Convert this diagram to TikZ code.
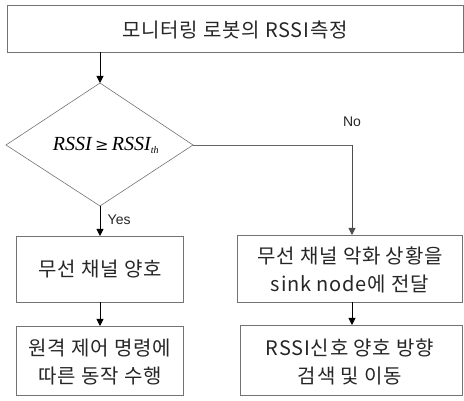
\documentclass[tikz,border=0pt]{standalone}
\usepackage{fontspec}
\setmainfont{Liberation Sans}
\newfontfamily\kr[LetterSpace=4]{Noto Sans CJK KR}
\newfontfamily\tms{Liberation Serif}
\newfontfamily\djv{DejaVu Serif}
\usetikzlibrary{arrows.meta}
\begin{document}
\begin{tikzpicture}[x=1pt,y=-1pt,
  boxline/.style={draw=black!55,line width=0.6pt},
  conn/.style={draw=black!60,line width=0.6pt},
  arr/.style={draw=black,line width=0.8pt,-{Triangle[length=7pt,width=7pt]}},
  txt/.style={font=\kr\fontsize{20}{28}\selectfont,align=center,text=black!85,inner sep=0pt}]
\useasboundingbox (0,0) rectangle (464,401);
\path[boxline] (7,5) rectangle (463,52);
\node[txt] (top) at (235,30) {모니터링 로봇의 RSSI측정};
\coordinate (topb) at (100,52);
% diamond
\coordinate (dt) at (100,83);
\coordinate (dl) at (6,145);
\coordinate (dr) at (193,145);
\coordinate (db) at (100,206);
\draw[boxline] (dt) -- (dr) -- (db) -- (dl) -- cycle;
\node[inner sep=0pt,font=\tms\itshape\fontsize{20}{22}\selectfont] (cond) at (106,145) {RSSI\,{\djv\upshape\fontsize{16}{18}\selectfont ≥}\,RSSI\textsubscript{\fontsize{10}{10}\selectfont th}};
% boxes
\path[boxline] (16,236) rectangle (183,302);
\coordinate (l1) at (100,236);
\node[txt] (l1t) at (100,269) {무선 채널 양호};
\path[boxline] (16,326) rectangle (183,395);
\coordinate (l2) at (100,326);
\coordinate (l1b) at (100,302);
\node[txt] (l2t) at (100,362) {원격 제어 명령에\\따른 동작 수행};
\path[boxline] (237,235) rectangle (462,302);
\coordinate (r1) at (352,235);
\coordinate (r1b) at (352,302);
\node[txt] (r1t) at (350,270) {무선 채널 악화 상황을\\sink node에 전달};
\path[boxline] (240,325) rectangle (462,395);
\coordinate (r2) at (352,325);
\node[txt] (r2t) at (350,362) {RSSI신호 양호 방향\\검색 및 이동};
% connectors
\draw[arr] (topb) -- (dt);
\draw[arr] (db) -- (l1) node[pos=0.45,right=4pt,font=\fontsize{14}{15}\selectfont,text=black!85]{Yes};
\draw[conn] (dr) -- (352,145) coordinate (corner);
\draw[arr,draw=black!70] (corner) -- (r1);
\node[font=\fontsize{14}{15}\selectfont,text=black!85] (no) at (352,122) {No};
\draw[arr] (l1b) -- (l2);
\draw[arr] (r1b) -- (r2);
\end{tikzpicture}
\end{document}
